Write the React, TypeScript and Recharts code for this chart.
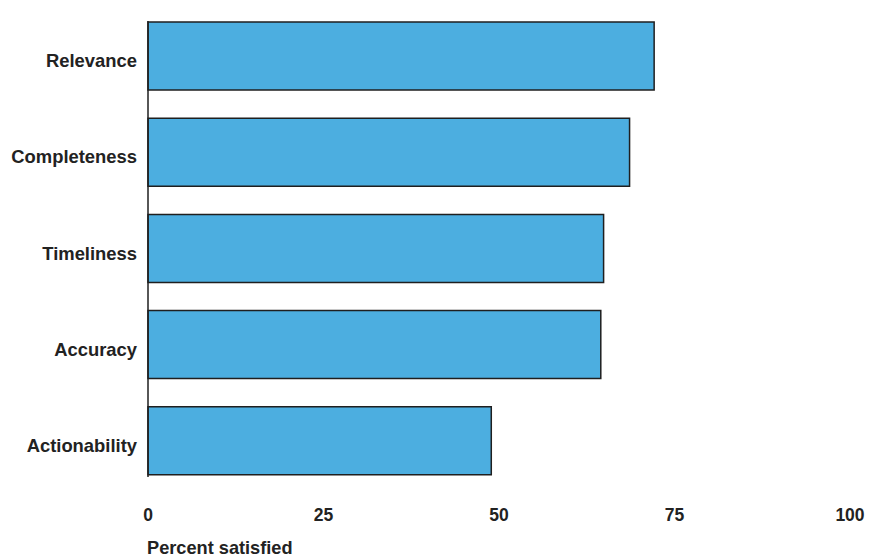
import { Bar, BarChart, ReferenceLine, XAxis, YAxis } from "recharts";

const CATEGORIES = ["Relevance", "Completeness", "Timeliness", "Accuracy", "Actionability"];
const SATISFIED = [72.1, 68.6, 64.9, 64.5, 48.9];
const X_TICKS = [0, 25, 50, 75, 100];

const FILL = "#4caee0";
const EDGE = "#1f1f1f";
const TEXT = "#222222";
const FONT = "'Liberation Sans', Arial, sans-serif";

const data = CATEGORIES.map((name, i) => ({ name, value: SATISFIED[i] }));

function CategoryTick(props: any) {
  const { x, y, payload } = props;
  return (
    <text x={x} y={y} dy={11} textAnchor="end" fontFamily={FONT} fontWeight={700} fontSize={18.4} fill={TEXT}>
      {payload.value}
    </text>
  );
}

// y-axis line only spans from the first bar's top to the last bar's bottom
function AxisLine(props: any) {
  const { x1, y1, y2 } = props;
  const top = Math.min(y1, y2);
  const bottom = Math.max(y1, y2);
  return <line x1={x1} x2={x1} y1={top + 13} y2={bottom - 12} stroke={EDGE} strokeWidth={1.5} />;
}

export default function App() {
  return (
    <div style={{ position: "absolute", left: 0, top: 0, background: "#fff" }}>
      <BarChart
        width={872}
        height={558}
        data={data}
        layout="vertical"
        barCategoryGap={14}
        margin={{ top: 8, right: 22, left: 0, bottom: 0 }}
      >
        <XAxis
          type="number"
          domain={[0, 100]}
          ticks={X_TICKS}
          axisLine={false}
          tickLine={false}
          tickSize={0}
          tickMargin={20}
          height={69}
          tick={{ fontFamily: FONT, fontWeight: 700, fontSize: 17.5, fill: TEXT }}
          label={{
            value: "Percent satisfied",
            position: "insideBottomLeft",
            offset: 4,
            dx: -5,
            style: { fontFamily: FONT, fontWeight: 700, fontSize: 18.2, fill: TEXT },
          }}
        />
        <YAxis
          type="category"
          dataKey="name"
          width={148}
          axisLine={false}
          tickLine={false}
          tickSize={0}
          tickMargin={11}
          tick={<CategoryTick />}
        />
        <Bar dataKey="value" fill={FILL} stroke={EDGE} strokeWidth={1.5} isAnimationActive={false} />
        <ReferenceLine x={0} shape={<AxisLine />} />
      </BarChart>
    </div>
  );
}
